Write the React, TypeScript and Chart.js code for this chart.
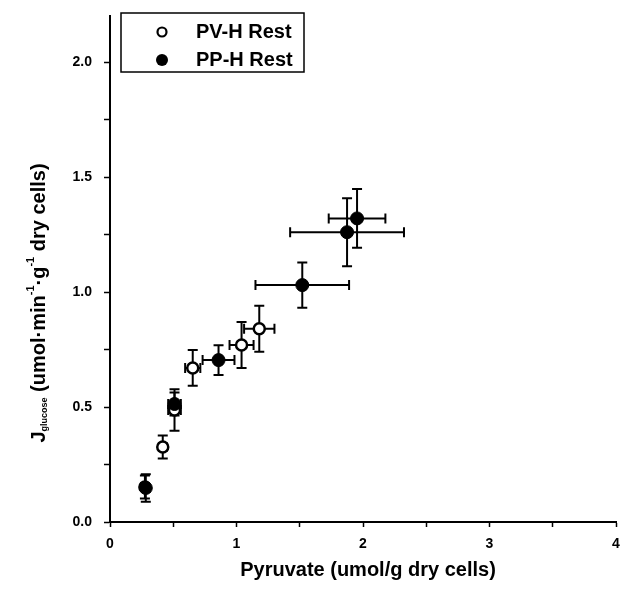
import React, { useEffect, useRef } from "react";
import { Chart, registerables } from "chart.js";

Chart.register(...registerables);

const pvX = [0.276, 0.417, 0.51, 0.654, 1.04, 1.18];
const pvY = [0.152, 0.326, 0.487, 0.67, 0.77, 0.84];
const pvXErr = [0.03, 0.03, 0.05, 0.06, 0.095, 0.12];
const pvYErr = [0.05, 0.05, 0.09, 0.078, 0.1, 0.1];

const ppX = [0.283, 0.51, 0.858, 1.52, 1.874, 1.953];
const ppY = [0.148, 0.513, 0.704, 1.03, 1.26, 1.32];
const ppXErr = [0.03, 0.05, 0.126, 0.37, 0.45, 0.224];
const ppYErr = [0.06, 0.05, 0.065, 0.098, 0.148, 0.128];

const seriesNames = ["PV-H Rest", "PP-H Rest"];
const xTickLabels = ["0", "1", "2", "3", "4"];
const yTickLabels = ["0.0", "0.5", "1.0", "1.5", "2.0"];

const FONT = "'Liberation Sans', Arial, sans-serif";

const errorBarPlugin = {
  id: "errorBars",
  beforeDatasetsDraw(chart: any) {
    const ctx = chart.ctx;
    const xs = chart.scales.x;
    const ys = chart.scales.y;
    const sets = [
      { x: pvX, y: pvY, ex: pvXErr, ey: pvYErr },
      { x: ppX, y: ppY, ex: ppXErr, ey: ppYErr },
    ];
    ctx.save();
    ctx.strokeStyle = "#000";
    ctx.lineWidth = 2;
    const cap = 5;
    sets.forEach((s) => {
      s.x.forEach((xv, i) => {
        const px = xs.getPixelForValue(xv);
        const py = ys.getPixelForValue(s.y[i]);
        const x1 = xs.getPixelForValue(xv - s.ex[i]);
        const x2 = xs.getPixelForValue(xv + s.ex[i]);
        const y1 = ys.getPixelForValue(s.y[i] - s.ey[i]);
        const y2 = ys.getPixelForValue(s.y[i] + s.ey[i]);
        ctx.beginPath();
        ctx.moveTo(px, y1);
        ctx.lineTo(px, y2);
        ctx.moveTo(px - cap, y1);
        ctx.lineTo(px + cap, y1);
        ctx.moveTo(px - cap, y2);
        ctx.lineTo(px + cap, y2);
        ctx.moveTo(x1, py);
        ctx.lineTo(x2, py);
        ctx.moveTo(x1, py - cap);
        ctx.lineTo(x1, py + cap);
        ctx.moveTo(x2, py - cap);
        ctx.lineTo(x2, py + cap);
        ctx.stroke();
      });
    });
    ctx.restore();
  },
};

const decorPlugin = {
  id: "decor",
  afterDraw(chart: any) {
    const ctx = chart.ctx;
    ctx.save();
    // legend box
    ctx.strokeStyle = "#000";
    ctx.lineWidth = 1.5;
    ctx.strokeRect(121, 13, 183, 59);
    const rows = [32, 60];
    rows.forEach((ry, i) => {
      ctx.beginPath();
      ctx.arc(162, ry, i === 0 ? 4.5 : 6, 0, Math.PI * 2);
      if (i === 0) {
        ctx.fillStyle = "#fff";
        ctx.fill();
        ctx.lineWidth = 2.2;
        ctx.stroke();
      } else {
        ctx.fillStyle = "#000";
        ctx.fill();
      }
      ctx.fillStyle = "#000";
      ctx.font = `bold 20px ${FONT}`;
      ctx.textAlign = "left";
      ctx.textBaseline = "middle";
      ctx.fillText(seriesNames[i], 196, ry);
    });

    // x title
    ctx.font = `bold 20px ${FONT}`;
    ctx.textAlign = "center";
    ctx.textBaseline = "middle";
    ctx.fillText("Pyruvate (umol/g dry cells)", 368, 570);

    // y title with subscript
    ctx.translate(39, 303);
    ctx.rotate(-Math.PI / 2);
    const main = `bold 20px ${FONT}`;
    const sub = `bold 9px ${FONT}`;
    const sup = `bold 11px ${FONT}`;
    const parts: [string, string, number][] = [
      ["J", main, 0],
      ["glucose", sub, 6],
      [" (umol\u00B7min", main, 0],
      ["-1", sup, -8],
      ["\u00B7g", main, 0],
      ["-1", sup, -8],
      [" dry cells)", main, 0],
    ];
    let total = 0;
    parts.forEach(([t, f]) => {
      ctx.font = f;
      total += ctx.measureText(t).width;
    });
    let x = -total / 2;
    ctx.textAlign = "left";
    ctx.textBaseline = "middle";
    parts.forEach(([t, f, dy]) => {
      ctx.font = f;
      ctx.fillText(t, x, dy);
      x += ctx.measureText(t).width;
    });
    ctx.restore();
  },
};

export default function App() {
  const ref = useRef<HTMLCanvasElement>(null);
  useEffect(() => {
    document.body.style.margin = "0";
    const canvas = ref.current!;
    const chart = new Chart(canvas, {
      type: "scatter",
      data: {
        datasets: [
          {
            label: seriesNames[0],
            data: pvX.map((x, i) => ({ x, y: pvY[i] })),
            backgroundColor: "#fff",
            borderColor: "#000",
            borderWidth: 2.5,
            pointRadius: 5.5,
            order: 1,
          },
          {
            label: seriesNames[1],
            data: ppX.map((x, i) => ({ x, y: ppY[i] })),
            backgroundColor: "#000",
            borderColor: "#000",
            borderWidth: 1,
            pointRadius: 6.5,
            order: 0,
          },
        ],
      },
      options: {
        animation: false,
        responsive: false,
        layout: { padding: { top: 16, right: 6, left: 0, bottom: 0 } },
        plugins: { legend: { display: false }, tooltip: { enabled: false } },
        scales: {
          x: {
            type: "linear",
            min: 0,
            max: 4,
            afterFit: (s: any) => {
              s.height = 68;
              s.paddingLeft = 0;
              s.paddingRight = 0;
            },
            ticks: {
              stepSize: 0.5,
              autoSkip: false,
              maxRotation: 0,
              padding: 9,
              color: "#000",
              font: { family: FONT, size: 14, weight: "bold" },
              callback: (v: any) => {
                const n = Number(v);
                return Number.isInteger(n) ? xTickLabels[n] : "";
              },
            },
            grid: {
              drawOnChartArea: false,
              drawTicks: true,
              tickLength: 5,
              tickColor: "#000",
              tickWidth: 1.5,
            },
            border: { color: "#000", width: 2 },
          },
          y: {
            type: "linear",
            min: 0,
            max: 2.2,
            afterFit: (s: any) => {
              s.width = 110;
              s.paddingTop = 0;
              s.paddingBottom = 0;
            },
            ticks: {
              stepSize: 0.25,
              autoSkip: false,
              padding: 12,
              color: "#000",
              font: { family: FONT, size: 14, weight: "bold" },
              callback: (v: any) => {
                const n = Number(v);
                const k = Math.round(n * 2);
                return Math.abs(n * 2 - k) < 1e-6 && k <= 4 ? yTickLabels[k] : "";
              },
            },
            grid: {
              drawOnChartArea: false,
              drawTicks: true,
              tickLength: 6,
              tickColor: (c: any) => (c.tick && c.tick.value > 2.01 ? "rgba(0,0,0,0)" : "#000"),
              tickWidth: 1.5,
            },
            border: { color: "#000", width: 2 },
          },
        },
      },
      plugins: [errorBarPlugin, decorPlugin],
    } as any);
    return () => chart.destroy();
  }, []);
  return (
    <div style={{ width: 624, height: 590, background: "#fff" }}>
      <canvas ref={ref} width={624} height={590} style={{ display: "block" }} />
    </div>
  );
}
